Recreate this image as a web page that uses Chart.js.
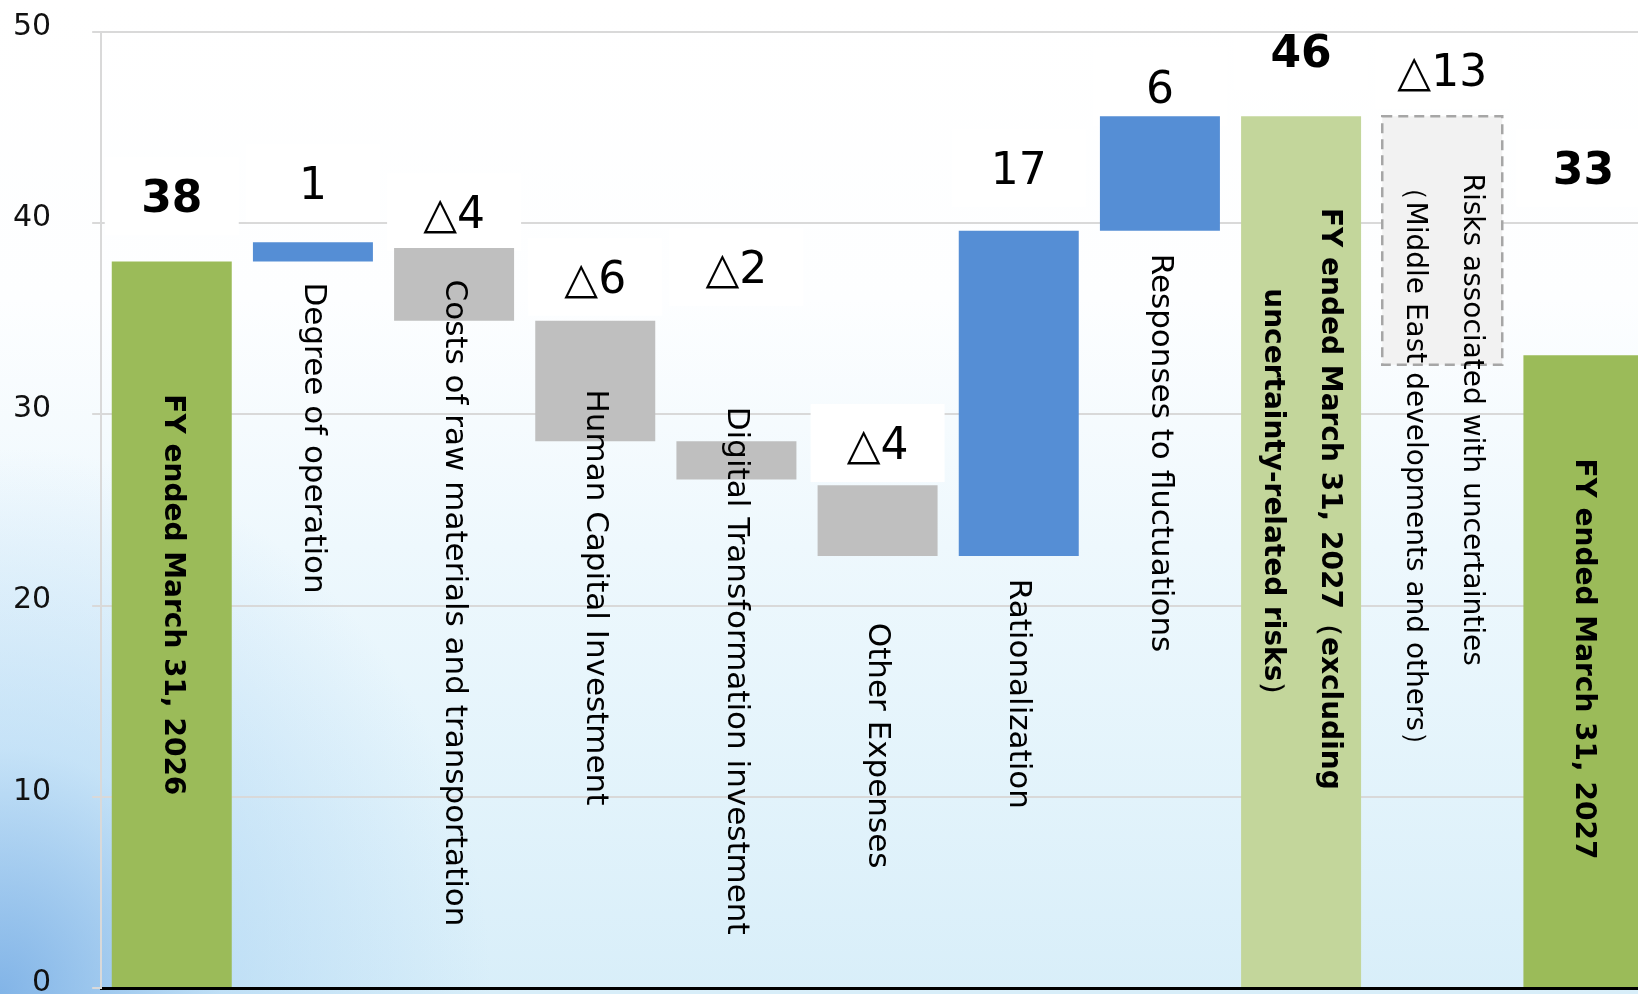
<!DOCTYPE html>
<html>
<head>
<meta charset="utf-8">
<script src="https://cdn.jsdelivr.net/npm/chart.js@4.4.1/dist/chart.umd.min.js"></script>
<style>
  html, body {
    margin: 0;
    padding: 0;
    width: 1638px;
    height: 994px;
    overflow: hidden;
    background:
      radial-gradient(ellipse 30% 55% at 0% 100%, rgba(115,170,228,0.85) 0%, rgba(160,205,242,0.45) 45%, rgba(255,255,255,0) 100%),
      linear-gradient(180deg, #ffffff 0%, #fdfeff 30%, #eef8fd 55%, #e2f3fb 80%, #d8eef9 100%);
  }
  /* the canvas is a bit bigger than the window: the plot runs off the right edge like the original */
  #wrap { position: absolute; left: -28px; top: -27px; width: 1688px; height: 1074px; }
</style>
</head>
<body>
<div id="wrap"><canvas id="canvas" width="1688" height="1074"></canvas></div>
<script>
// categories (one line per entry, drawn rotated inside the plot)
var categoryLines = [
    ['FY ended March 31, 2026'],
    ['Degree of operation'],
    ['Costs of raw materials and transportation'],
    ['Human Capital Investment'],
    ['Digital Transformation investment'],
    ['Other Expenses'],
    ['Rationalization'],
    ['Responses to fluctuations'],
    ['FY ended March 31, 2027\uFF08excluding', 'uncertainty-related risks\uFF09'],
    ['Risks associated with uncertainties', '\uFF08Middle East developments and others\uFF09'],
    ['FY ended March 31, 2027']
];
var categories = categoryLines.map(function (l) { return l.join(' '); });

// waterfall values: bottom and top of each bar
var barLow  = [0,  38, 34.9, 28.6, 26.6, 22.6, 22.6, 39.6, 0,    32.6, 0];
var barHigh = [38, 39, 38.7, 34.9, 28.6, 26.3, 39.6, 45.6, 45.6, 45.6, 33.1];
var barKind = ['total', 'up', 'down', 'down', 'down', 'down', 'up', 'up', 'subtotal', 'risk', 'total'];
var valueLabels = ['38', '1', '\u25B34', '\u25B36', '\u25B32', '\u25B34', '17', '6', '46', '\u25B313', '33'];
var yTicks = [0, 10, 20, 30, 40, 50];

// where the texts sit, in axis units
var valueLabelAt = [41.4, 42.1, 40.6, 37.2, 37.7, 28.5, 42.9, 47.1, 49.0, 48.0, 42.9];
var categoryLabelAt = [31.05, 36.9, 37.05, 31.3, 30.4, 19.1, 21.4, 38.4, 40.8, 42.6, 27.7];

var kindColor = {
    total: '#9BBB59',
    subtotal: '#C3D69B',
    up: '#558ED5',
    down: '#BFBFBF',
    risk: '#F2F2F2'
};

var FONT = "'DejaVu Sans', Verdana, sans-serif";
var CAP = 0.729;

var labelPlugin = {
    id: 'waterfallLabels',
    beforeDatasetsDraw: function (chart) {
        // white boxes behind the value labels (they hide the gridlines)
        var ctx = chart.ctx, y = chart.scales.y, area = chart.chartArea;
        var meta = chart.getDatasetMeta(0);
        ctx.save();
        ctx.beginPath();
        ctx.rect(area.left + 2, area.top + 2, area.right - area.left, area.bottom - area.top);
        ctx.clip();
        ctx.fillStyle = '#ffffff';
        meta.data.forEach(function (bar, i) {
            var cy = y.getPixelForValue(valueLabelAt[i]);
            var w = bar.width + 14;
            ctx.fillRect(bar.x - w / 2, cy - 39, w, 78);
        });
        ctx.restore();
    },
    afterDatasetsDraw: function (chart) {
        var ctx = chart.ctx, y = chart.scales.y;
        var meta = chart.getDatasetMeta(0);

        // dashed outline on the risk bar
        meta.data.forEach(function (bar, i) {
            if (barKind[i] !== 'risk') return;
            var top = Math.min(bar.y, bar.base), h = Math.abs(bar.base - bar.y);
            ctx.save();
            ctx.strokeStyle = '#A6A6A6';
            ctx.lineWidth = 2.5;
            ctx.setLineDash([10, 6]);
            ctx.strokeRect(bar.x - bar.width / 2, top, bar.width, h);
            ctx.restore();
        });

        // value labels
        meta.data.forEach(function (bar, i) {
            var bold = barKind[i] === 'total' || barKind[i] === 'subtotal';
            var size = 44;
            ctx.save();
            ctx.font = (bold ? 'bold ' : '') + size + 'px ' + FONT;
            ctx.fillStyle = '#000';
            ctx.textAlign = 'center';
            ctx.textBaseline = 'alphabetic';
            ctx.fillText(valueLabels[i], bar.x, y.getPixelForValue(valueLabelAt[i]) + size * CAP / 2);
            ctx.restore();
        });

        // rotated category labels
        meta.data.forEach(function (bar, i) {
            var kind = barKind[i];
            var bold = kind === 'total' || kind === 'subtotal';
            var size = bold ? 28 : (kind === 'risk' ? 28 : 31);
            var lines = categoryLines[i];
            var spacing = 57;
            var start = y.getPixelForValue(categoryLabelAt[i]);
            ctx.save();
            ctx.font = (bold ? 'bold ' : '') + size + 'px ' + FONT;
            ctx.fillStyle = '#000';
            var widths = lines.map(function (t) { return ctx.measureText(t).width; });
            var maxW = Math.max.apply(null, widths);
            lines.forEach(function (t, j) {
                var cx = bar.x + 3 + (lines.length - 1) / 2 * spacing - j * spacing;
                var off = kind === 'subtotal' ? (maxW - widths[j]) / 2 : 0;
                ctx.save();
                ctx.translate(cx, start + off);
                ctx.rotate(Math.PI / 2);
                ctx.textAlign = 'left';
                ctx.textBaseline = 'alphabetic';
                ctx.fillText(t, 0, size * CAP / 2);
                ctx.restore();
            });
            ctx.restore();
        });
    }
};

var ctx = document.getElementById('canvas').getContext('2d');
var waterfall = new Chart(ctx, {
    type: 'bar',
    data: {
        labels: categories,
        datasets: [{
            data: categories.map(function (c, i) { return [barLow[i], barHigh[i]]; }),
            backgroundColor: barKind.map(function (k) { return kindColor[k]; }),
            borderWidth: 0,
            barPercentage: 0.85,
            categoryPercentage: 1
        }]
    },
    options: {
        responsive: false,
        animation: false,
        layout: { padding: { left: 0, right: 6, top: 0, bottom: 0 } },
        plugins: {
            legend: { display: false },
            tooltip: { enabled: false }
        },
        scales: {
            x: {
                grid: { display: false, drawTicks: false },
                ticks: { display: false },
                border: { color: '#000', width: 3 }
            },
            y: {
                min: 0,
                max: 50,
                afterBuildTicks: function (scale) {
                    scale.ticks = yTicks.map(function (v) { return { value: v }; });
                },
                ticks: {
                    padding: 41,
                    labelOffset: -5,
                    color: '#111',
                    font: { family: FONT, size: 30 }
                },
                grid: { color: '#D9D9D9', lineWidth: 2, tickLength: 9 },
                border: { color: '#D9D9D9', width: 2 }
            }
        }
    },
    plugins: [labelPlugin]
});
</script>
</body>
</html>
